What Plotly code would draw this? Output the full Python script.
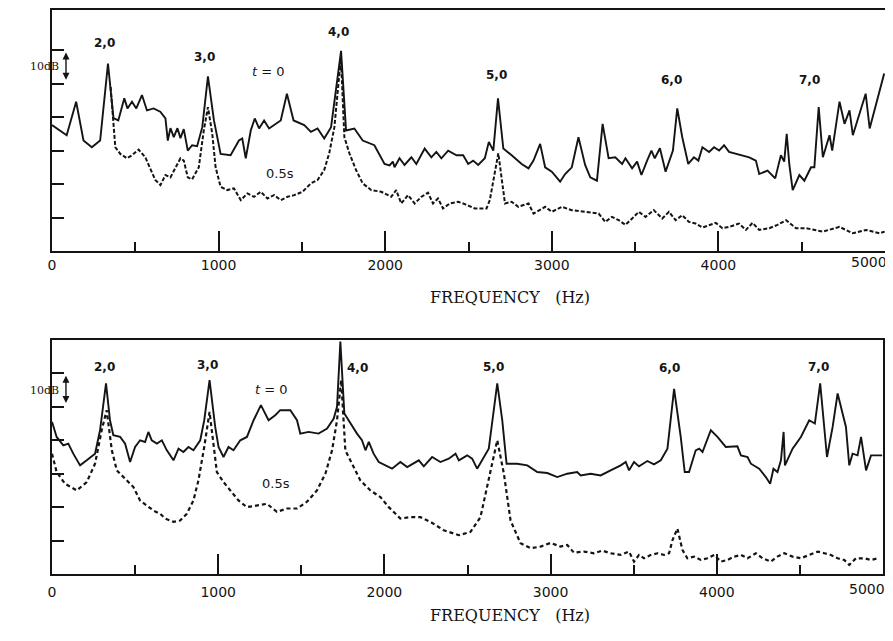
import plotly.graph_objects as go

# ---------------- data (frequency in Hz, level in dB relative to frame bottom) -------------
top_t0_freq = [0, 88, 145, 189, 239, 289, 336, 369, 398, 434,
               453, 480, 506, 540, 570, 610, 650, 681, 695, 711,
               731, 753, 771, 791, 815, 841, 871, 902, 936, 972,
               1012, 1072, 1122, 1142, 1163, 1193, 1217, 1243, 1273, 1303,
               1373, 1410, 1450, 1514, 1554, 1594, 1634, 1675, 1735, 1765,
               1815, 1865, 1935, 1996, 2026, 2046, 2056, 2086, 2116, 2157,
               2187, 2237, 2277, 2307, 2337, 2378, 2428, 2468, 2498, 2528,
               2558, 2598, 2622, 2649, 2677, 2709, 2759, 2819, 2860, 2890,
               2930, 2960, 3000, 3050, 3080, 3120, 3160, 3200, 3231, 3271,
               3305, 3341, 3381, 3422, 3442, 3482, 3512, 3538, 3572, 3598,
               3618, 3649, 3683, 3727, 3753, 3783, 3819, 3853, 3880, 3904,
               3944, 3974, 4004, 4034, 4064, 4104, 4145, 4185, 4225, 4245,
               4295, 4341, 4375, 4395, 4410, 4426, 4446, 4486, 4516, 4556,
               4576, 4602, 4627, 4667, 4683, 4727, 4757, 4787, 4807, 4884,
               4908, 4995]
top_t0_level = [37.6, 34.6, 44.6, 33, 31, 33, 56, 39.7, 39, 45.6,
                42.6, 44.6, 42.6, 46.6, 42, 42.6, 41.6, 39.6, 33, 36.7,
                34, 36.7, 33.7, 36.4, 30, 31.6, 31.3, 37, 52.2, 39,
                29, 28.6, 33, 33.6, 27.7, 36, 39.6, 36.6, 39, 36.6,
                39, 47, 39, 37.6, 35.6, 36.6, 33.6, 37, 59.8, 36,
                36.6, 33, 31.6, 26, 25.6, 26.7, 25, 27.7, 25.7, 28,
                26, 30.6, 28, 29.6, 27.7, 30, 28.6, 28.6, 26, 27,
                25.7, 27.7, 32.6, 30, 45.6, 30.6, 28.6, 26, 24.7, 27,
                32, 25, 23.7, 20.7, 23, 25, 34, 25.7, 22, 21,
                38, 27.7, 28, 26, 27.7, 24.7, 26.7, 22.7, 27, 30,
                27.7, 30.7, 23.7, 30, 42.6, 34, 26, 28, 27, 31,
                29.6, 31, 30, 31.6, 29.6, 29, 28.6, 28, 27, 23,
                24, 21.7, 28.6, 26.7, 35, 25.7, 18.2, 22.7, 21, 25,
                25, 43, 28, 34.6, 30, 44.6, 38, 42, 34.6, 47,
                36.6, 53]

top_05_freq = [352, 369, 380, 410, 450, 480, 520, 560, 590, 620,
               651, 681, 711, 741, 771, 791, 815, 841, 881, 911,
               936, 962, 982, 1012, 1052, 1092, 1133, 1173, 1213, 1253,
               1293, 1333, 1373, 1414, 1454, 1504, 1554, 1594, 1634, 1664,
               1695, 1725, 1735, 1755, 1785, 1825, 1865, 1916, 1976, 2036,
               2066, 2096, 2137, 2177, 2217, 2257, 2287, 2317, 2347, 2387,
               2438, 2478, 2538, 2608, 2628, 2679, 2699, 2719, 2759, 2799,
               2860, 2890, 2960, 3000, 3060, 3120, 3200, 3281, 3321, 3361,
               3402, 3442, 3482, 3522, 3562, 3612, 3663, 3703, 3743, 3783,
               3823, 3863, 3904, 3944, 3984, 4024, 4064, 4124, 4165, 4205,
               4245, 4305, 4355, 4406, 4466, 4526, 4586, 4627, 4727, 4807,
               4888, 4968, 4998]
top_05_level = [49, 37, 31, 29, 27.7, 28.6, 30.3, 28, 24.7, 21.2,
                19.7, 22.7, 22, 24.7, 27.7, 27, 22, 21.4, 25, 36,
                43, 35, 25, 19.2, 18.2, 18.7, 15.2, 17.2, 16.2, 17.7,
                15.7, 16.7, 15.2, 16.2, 16.7, 17.7, 20.2, 21.2, 24.2, 29.2,
                37, 53, 57, 34, 29.2, 24.2, 20.2, 18.2, 17.7, 16.2,
                18.2, 14.2, 16.7, 14.2, 16.2, 17.4, 14.2, 15.7, 12.7, 14.2,
                14.7, 14, 12.7, 12.7, 15.2, 29.2, 21.2, 14.2, 14.7, 13.2,
                14.2, 11.2, 13.2, 11.7, 13.2, 12.2, 11.7, 11.2, 8.7, 10.2,
                9.2, 7.8, 9.7, 11.7, 10.2, 12.2, 9.7, 11.7, 9.2, 10.7,
                8.7, 8.2, 7, 7.8, 8.4, 6.8, 7.2, 8.2, 6.3, 8.4,
                6.3, 6.8, 7.8, 9.2, 6.8, 6.8, 6.3, 5.8, 7.2, 5.3,
                6.3, 5.3, 5.8]

bot_t0_freq = [0, 28, 68, 98, 128, 169, 209, 259, 289, 325,
               349, 369, 410, 440, 470, 500, 530, 560, 580, 600,
               631, 661, 691, 731, 761, 791, 821, 851, 892, 916,
               948, 982, 1002, 1032, 1062, 1092, 1133, 1173, 1213, 1257,
               1303, 1343, 1373, 1434, 1474, 1494, 1544, 1604, 1655, 1695,
               1715, 1735, 1759, 1795, 1835, 1865, 1886, 1906, 1935, 1966,
               2006, 2046, 2096, 2137, 2207, 2237, 2287, 2337, 2387, 2428,
               2448, 2498, 2528, 2558, 2628, 2679, 2709, 2735, 2799, 2860,
               2920, 2980, 3040, 3100, 3160, 3181, 3241, 3301, 3361, 3422,
               3452, 3472, 3502, 3532, 3582, 3622, 3663, 3703, 3743, 3783,
               3807, 3833, 3873, 3894, 3914, 3964, 4004, 4054, 4124, 4145,
               4185, 4205, 4255, 4295, 4321, 4341, 4365, 4386, 4402, 4410,
               4456, 4506, 4556, 4590, 4622, 4663, 4697, 4727, 4777, 4797,
               4817, 4847, 4868, 4898, 4928, 4995]
bot_t0_level = [45.5, 41, 38.5, 39, 36, 32.5, 34, 36, 43, 57,
                46, 41.5, 41, 39, 33.5, 38, 40, 39.5, 42.5, 40,
                39, 40, 37, 34, 37.5, 36.5, 38, 37, 40, 46,
                58, 44, 38, 35, 38, 37, 40, 41, 46, 50.5,
                46, 47.5, 49, 49, 46, 42, 42.5, 42, 43.5, 46.5,
                50, 69.5, 48, 45, 42, 40, 37, 39.5, 36, 33.5,
                32.5, 31.5, 33.5, 32, 34, 32.2, 35, 33.5, 34.5, 36,
                34, 35.5, 34.5, 31.5, 37.5, 57, 46, 33, 33, 32.5,
                30.5, 30.2, 29, 30, 30.5, 29.5, 30, 29.5, 31, 32.5,
                33.5, 31, 33.5, 32.2, 33.8, 32.8, 34, 37.5, 55.4, 41,
                30.5, 30.5, 37, 37.5, 36.5, 43, 41, 38, 38.2, 35.5,
                35, 33, 31.5, 29, 27, 31.5, 30.5, 34, 42.5, 32.5,
                37.5, 41, 46, 45, 57, 35, 44, 54, 44, 32.5,
                36, 35.5, 41, 31, 35.5, 35.5]

bot_05_freq = [0, 28, 78, 149, 209, 259, 299, 329, 360, 390,
               440, 490, 530, 570, 610, 651, 681, 731, 771, 811,
               851, 881, 916, 948, 972, 992, 1032, 1082, 1122, 1173,
               1233, 1293, 1353, 1414, 1474, 1534, 1594, 1645, 1685, 1715,
               1740, 1765, 1805, 1855, 1916, 1976, 2026, 2096, 2157, 2217,
               2277, 2357, 2448, 2518, 2578, 2628, 2679, 2719, 2759, 2819,
               2880, 2940, 3000, 3060, 3100, 3140, 3200, 3261, 3311, 3361,
               3422, 3472, 3502, 3532, 3562, 3602, 3643, 3683, 3713, 3733,
               3763, 3793, 3823, 3863, 3904, 3944, 3984, 4024, 4064, 4104,
               4145, 4185, 4235, 4275, 4325, 4365, 4406, 4456, 4506, 4556,
               4607, 4647, 4687, 4727, 4767, 4797, 4837, 4888, 4928, 4968]
bot_05_level = [36, 30.5, 27, 25, 27.5, 33, 43, 49, 37, 31,
                28.5, 26, 22, 20.5, 19, 18, 16.6, 15.6, 16, 18,
                22, 28, 38, 48.5, 38, 30.5, 27.5, 24.5, 22, 20,
                20.5, 21, 18.6, 19.6, 19.6, 21.6, 25, 30, 37, 46,
                58, 37, 33, 28, 25, 23, 20, 16.6, 17, 17,
                15.6, 13.1, 11.6, 12.6, 17, 28, 40, 30, 16, 9.2,
                7.7, 8.2, 9.3, 8.2, 8.7, 6.4, 6.7, 6.2, 7, 6.2,
                5.7, 6.7, 3.7, 5.7, 4.7, 5.7, 6.2, 5.7, 6.2, 10.1,
                13.6, 7.2, 4.7, 5.2, 4.2, 4.7, 5.7, 3.7, 4.2, 5.2,
                5.7, 4.7, 6.2, 4.7, 3.7, 5.2, 6.2, 5.2, 4.7, 5.7,
                6.7, 6.2, 5.7, 4.7, 4.2, 2.7, 4.7, 4.7, 4.2, 4.7]

assert len(top_t0_freq) == len(top_t0_level)
assert len(top_05_freq) == len(top_05_level)
assert len(bot_t0_freq) == len(bot_t0_level)
assert len(bot_05_freq) == len(bot_05_level)

x_tick_values = [0, 1000, 2000, 3000, 4000, 5000]
x_tick_labels = ["0", "1000", "2000", "3000", "4000", "5000"]
y_tick_values = [10, 20, 30, 40, 50, 60]

# label texts and positions (freq, dB)
top_labels = [("2,0", 318, 62), ("3,0", 918, 58), ("4,0", 1717, 65.4),
              ("5,0", 2671, 52.6), ("6,0", 3721, 51.1), ("7,0", 4544, 51.1)]
top_notes = [("<i>t</i> = 0", 1297, 53.5), ("0.5s", 1369, 23.3)]
bot_labels = [("2,0", 318, 62), ("3,0", 936, 62.5), ("4,0", 1837, 61.5),
              ("5,0", 2659, 62), ("6,0", 3715, 61.5), ("7,0", 4610, 62)]
bot_notes = [("<i>t</i> = 0", 1320, 55.2), ("0.5s", 1350, 27.1)]

INK = "#141414"
SERIF = "DejaVu Serif"
SANS = "DejaVu Sans"

# The page body has an 8 px margin, so the figure is drawn 8 px in from the window edge.
OFF = 8
W, H = 893 - OFF, 641 - OFF


def px_x(p):
    return (p - OFF) / W


def px_y(p):
    return 1 - (p - OFF) / H


fig = go.Figure()

fig.add_trace(go.Scatter(x=top_05_freq, y=top_05_level, mode="lines", xaxis="x", yaxis="y",
                         line=dict(color=INK, width=2.0, dash="4px,2px"), showlegend=False))
fig.add_trace(go.Scatter(x=top_t0_freq, y=top_t0_level, mode="lines", xaxis="x", yaxis="y",
                         line=dict(color=INK, width=1.9), showlegend=False))
fig.add_trace(go.Scatter(x=bot_05_freq, y=bot_05_level, mode="lines", xaxis="x2", yaxis="y2",
                         line=dict(color=INK, width=2.2, dash="4px,3px"), showlegend=False))
fig.add_trace(go.Scatter(x=bot_t0_freq, y=bot_t0_level, mode="lines", xaxis="x2", yaxis="y2",
                         line=dict(color=INK, width=1.9), showlegend=False))


def xax(domain, anchor, standoff):
    return dict(domain=domain, range=[0, 5000], showgrid=False, zeroline=False,
                showline=True, mirror=True, linecolor=INK, linewidth=2,
                ticks="inside", ticklen=20, tickwidth=1.8, tickcolor=INK,
                tickvals=x_tick_values[:-1], ticktext=x_tick_labels[:-1],
                ticklabelstandoff=standoff,
                tickfont=dict(family=SANS, size=14, color=INK),
                minor=dict(ticks="inside", ticklen=9, tickwidth=1.8, tickcolor=INK,
                           dtick=500, tick0=0, showgrid=False),
                anchor=anchor)


def yax(domain, top, anchor):
    return dict(domain=domain, range=[0, top], showgrid=False, zeroline=False,
                showline=True, mirror=True, linecolor=INK, linewidth=2,
                ticks="inside", ticklen=12, tickwidth=1.8, tickcolor=INK,
                tickvals=y_tick_values, showticklabels=False, anchor=anchor)


fig.update_layout(
    width=W, height=H,
    margin=dict(l=0, r=0, t=0, b=0, autoexpand=False),
    paper_bgcolor="white", plot_bgcolor="white",
    xaxis=xax([px_x(52), px_x(885)], "y", 0),
    yaxis=yax([px_y(251), px_y(10)], 72, "x"),
    xaxis2=xax([px_x(52), px_x(883)], "y2", 4),
    yaxis2=yax([px_y(574), px_y(340)], 70, "x2"),
)

ann = []
for (labels, notes, xr, yr, shift) in ((top_labels, top_notes, "x", "y", -1),
                                       (bot_labels, bot_notes, "x2", "y2", -5)):
    for txt, fx, dy in labels:
        ann.append(dict(x=fx, y=dy, xref=xr, yref=yr, text=txt, showarrow=False,
                        font=dict(family=SANS, size=12, color=INK, weight="bold")))
    for txt, fx, dy in notes:
        ann.append(dict(x=fx, y=dy, xref=xr, yref=yr, text=txt, showarrow=False,
                        font=dict(family=SANS, size=13, color=INK)))
    # last x tick label, kept inside the page as in the original
    ann.append(dict(x=x_tick_values[-1], y=0, xref=xr, yref=yr, text=x_tick_labels[-1],
                    showarrow=False, xanchor="right", yanchor="top", xshift=4, yshift=shift,
                    font=dict(family=SANS, size=14, color=INK)))
    # 10 dB scale marker
    ann.append(dict(x=84, y=59.3, xref=xr, yref=yr, ax=84, ay=50.7, axref=xr, ayref=yr,
                    text="", showarrow=True, arrowhead=2, arrowside="end+start",
                    arrowsize=1, arrowwidth=1.4, arrowcolor=INK))
    ann.append(dict(x=px_x(28), y=55, xref="paper", yref=yr, text="10dB", showarrow=False,
                    font=dict(family=SERIF, size=11, color=INK)))

# axis titles
for ypix in (297, 627):
    ann.append(dict(x=px_x(510), y=px_y(ypix), xref="paper", yref="paper",
                    text="FREQUENCY&nbsp;&nbsp;&nbsp;(Hz)", showarrow=False,
                    font=dict(family=SERIF, size=16, color=INK)))

fig.update_layout(annotations=ann)

fig.write_html("out.html")
